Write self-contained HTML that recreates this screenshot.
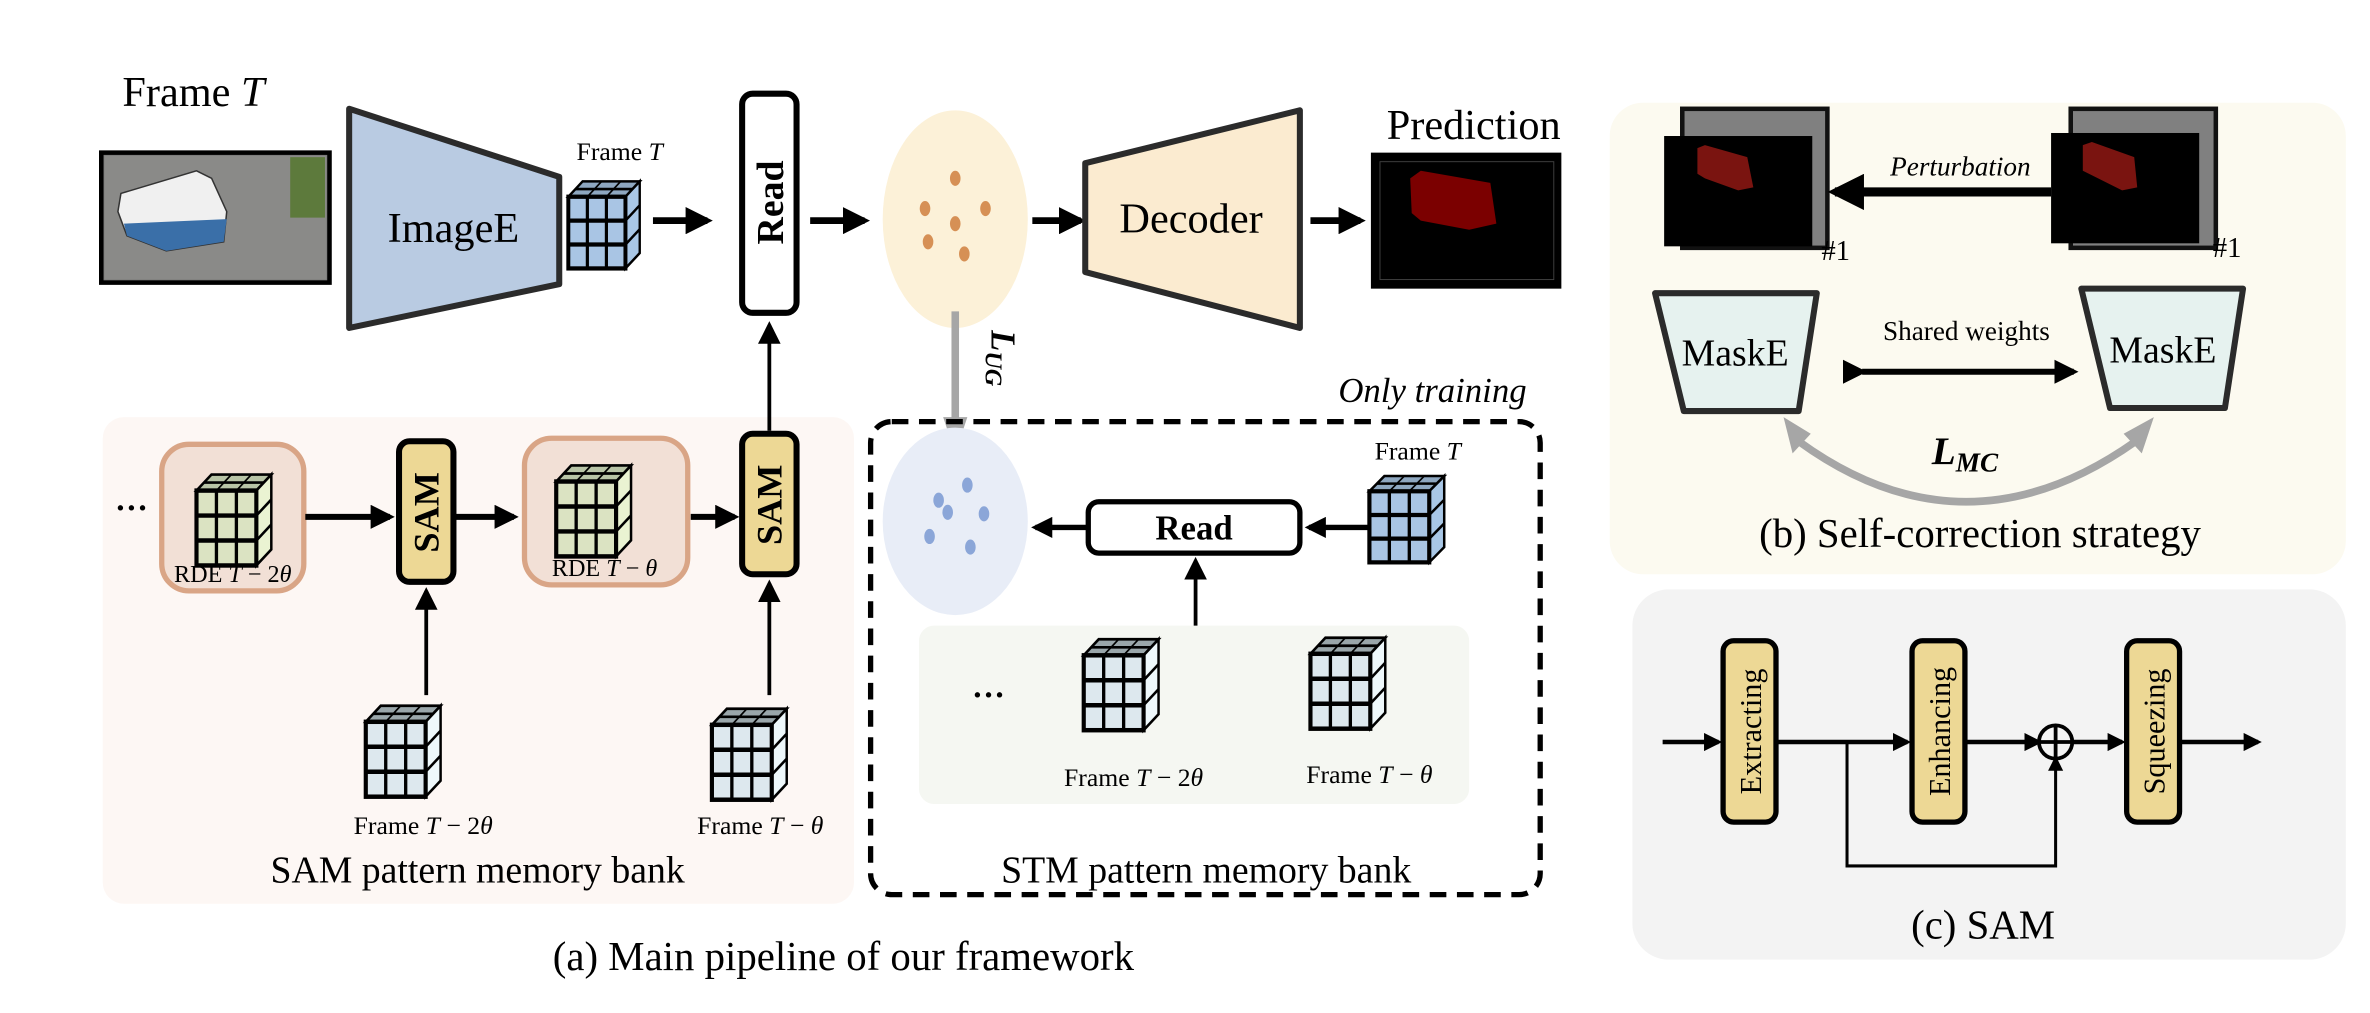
<!DOCTYPE html>
<html><head><meta charset="utf-8"><style>
html,body{margin:0;padding:0;background:#fff;font-family:"Liberation Serif","Times New Roman",Times,serif;}
svg text, svg tspan{font-family:"Liberation Serif","Times New Roman",Times,"Nimbus Roman","DejaVu Serif",serif !important;}
</style></head><body>
<svg width="2370" height="1008" viewBox="0 0 1568 667" preserveAspectRatio="none" xmlns="http://www.w3.org/2000/svg">
<defs>
<marker id="ah" markerWidth="4" markerHeight="4" refX="3.2" refY="2" orient="auto" markerUnits="strokeWidth"><path d="M0,0 L4,2 L0,4 z" fill="#000"/></marker>
<marker id="ahs" markerWidth="6" markerHeight="6" refX="5" refY="3" orient="auto" markerUnits="strokeWidth"><path d="M0,0 L6,3 L0,6 z" fill="#000"/></marker>
<g id="cube">
<polygon points="0,9 9,0 45,0 36,9" style="fill:var(--t)" stroke="#000" stroke-width="1.5"/>
<line x1="12" y1="9" x2="21" y2="0" stroke="#000" stroke-width="1"/>
<line x1="24" y1="9" x2="33" y2="0" stroke="#000" stroke-width="1"/>
<line x1="4.5" y1="4.5" x2="40.5" y2="4.5" stroke="#000" stroke-width="1.5"/>
<polygon points="36,9 45,0 45,42 36,51" style="fill:var(--s)" stroke="#000" stroke-width="1.5"/>
<line x1="36" y1="23" x2="45" y2="14" stroke="#000" stroke-width="1.5"/>
<line x1="36" y1="37" x2="45" y2="28" stroke="#000" stroke-width="1.5"/>
<rect x="0" y="9" width="36" height="42" style="fill:var(--f)" stroke="#000" stroke-width="2.5"/>
<line x1="12" y1="9" x2="12" y2="51" stroke="#000" stroke-width="2"/>
<line x1="24" y1="9" x2="24" y2="51" stroke="#000" stroke-width="2"/>
<line x1="0" y1="23" x2="36" y2="23" stroke="#000" stroke-width="2.5"/>
<line x1="0" y1="37" x2="36" y2="37" stroke="#000" stroke-width="2.5"/>
</g>
</defs>

<rect x="68" y="276" width="497" height="322" rx="14" fill="#fdf7f4"/>
<rect x="1065" y="68" width="487" height="312" rx="22" fill="#fcfaf0"/>
<rect x="1080" y="390" width="472" height="245" rx="24" fill="#f3f3f3"/>
<rect x="608" y="414" width="364" height="118" rx="10" fill="#f5f7f2"/>

<text x="128" y="70" font-size="28" text-anchor="middle">Frame <tspan font-style="italic">T</tspan></text>
<rect x="67" y="101" width="151" height="86" fill="#777" stroke="#000" stroke-width="3"/>
<rect x="69" y="103" width="147" height="82" fill="#8a8a88"/>
<polygon points="78,140 80,128 130,113 140,118 150,140 148,160 110,166 84,156" fill="#f0f0f0" stroke="#333" stroke-width="1"/>
<polygon points="82,148 150,145 148,160 110,166 84,156" fill="#3a6fa8"/>
<rect x="192" y="104" width="23" height="40" fill="#5d7a3c"/>
<polygon points="231,72 370,117 370,188 231,217" fill="#b9cbe2" stroke="#2b2b2b" stroke-width="4" stroke-linejoin="round"/>
<text x="300" y="160" font-size="28" text-anchor="middle">ImageE</text>
<text x="410" y="106" font-size="17" text-anchor="middle">Frame <tspan font-style="italic">T</tspan></text>
<use href="#cube" transform="translate(376,120) scale(1.05,1.13)" style="--t:#8ea7c0;--s:#a9c7e6;--f:#a9c5e4"/>
<line x1="432" y1="146" x2="468" y2="146" stroke="#000" stroke-width="4.5" marker-end="url(#ah)"/>
<rect x="491" y="62" width="36" height="145" rx="7" fill="#fff" stroke="#000" stroke-width="4"/>
<text transform="translate(518,134) rotate(-90)" font-size="25" font-weight="bold" text-anchor="middle">Read</text>
<line x1="536" y1="146" x2="572" y2="146" stroke="#000" stroke-width="4.5" marker-end="url(#ah)"/>
<ellipse cx="632" cy="145" rx="48" ry="72" fill="#fcf1d8"/>
<g fill="#d69055"><ellipse cx="632" cy="118" rx="3.5" ry="5"/><ellipse cx="612" cy="138" rx="3.5" ry="5"/><ellipse cx="652" cy="138" rx="3.5" ry="5"/><ellipse cx="632" cy="148" rx="3.5" ry="5"/><ellipse cx="614" cy="160" rx="3.5" ry="5"/><ellipse cx="638" cy="168" rx="3.5" ry="5"/></g>
<line x1="683" y1="146" x2="715" y2="146" stroke="#000" stroke-width="4.5" marker-end="url(#ah)"/>
<polygon points="718,108 860,73 860,217 718,180" fill="#fbebd0" stroke="#2b2b2b" stroke-width="4" stroke-linejoin="round"/>
<text x="788" y="154" font-size="28" text-anchor="middle">Decoder</text>
<line x1="867" y1="146" x2="900" y2="146" stroke="#000" stroke-width="4.5" marker-end="url(#ah)"/>
<text x="975" y="92" font-size="28" text-anchor="middle">Prediction</text>
<rect x="907" y="101" width="126" height="90" fill="#000"/>
<rect x="913" y="107" width="115" height="78" fill="none" stroke="#444" stroke-width="0.6"/>
<polygon points="933,118 940,113 986,121 990,148 972,152 940,146 934,141" fill="#7b0000"/>

<line x1="509" y1="285" x2="509" y2="215" stroke="#000" stroke-width="2.5" marker-end="url(#ahs)"/>
<line x1="632" y1="206" x2="632" y2="278" stroke="#a6a6a6" stroke-width="5"/>
<polygon points="624,276 640,276 632,300" fill="#a6a6a6"/>
<text transform="translate(656,237) rotate(90)" font-size="23" font-weight="bold" font-style="italic" text-anchor="middle">L<tspan font-size="16" dy="4">UG</tspan></text>

<text x="87" y="343" font-size="22" text-anchor="middle" font-weight="bold">···</text>
<rect x="107" y="294" width="94" height="97" rx="18" fill="#f2e0d6" stroke="#d9a586" stroke-width="3.5"/>
<use href="#cube" transform="translate(130,314) scale(1.1,1.18)" style="--t:#b8c4a6;--s:#eaf3d2;--f:#dbe3c2"/>
<text x="154" y="385" font-size="16" text-anchor="middle">RDE <tspan font-style="italic">T</tspan> − 2<tspan font-style="italic">θ</tspan></text>
<line x1="202" y1="342" x2="258" y2="342" stroke="#000" stroke-width="4" marker-end="url(#ah)"/>
<rect x="264" y="292" width="36" height="93" rx="7" fill="#edd895" stroke="#000" stroke-width="4"/>
<text transform="translate(290,339) rotate(-90)" font-size="24" font-weight="bold" text-anchor="middle">SAM</text>
<line x1="300" y1="342" x2="340" y2="342" stroke="#000" stroke-width="4" marker-end="url(#ah)"/>
<rect x="347" y="290" width="108" height="97" rx="18" fill="#f2e0d6" stroke="#d9a586" stroke-width="3.5"/>
<use href="#cube" transform="translate(368,308) scale(1.1,1.18)" style="--t:#b8c4a6;--s:#eaf3d2;--f:#dbe3c2"/>
<text x="400" y="381" font-size="16" text-anchor="middle">RDE <tspan font-style="italic">T</tspan> − <tspan font-style="italic">θ</tspan></text>
<line x1="457" y1="342" x2="486" y2="342" stroke="#000" stroke-width="4" marker-end="url(#ah)"/>
<rect x="491" y="287" width="36" height="93" rx="7" fill="#edd895" stroke="#000" stroke-width="4"/>
<text transform="translate(517,334) rotate(-90)" font-size="24" font-weight="bold" text-anchor="middle">SAM</text>
<line x1="282" y1="460" x2="282" y2="391" stroke="#000" stroke-width="2.5" marker-end="url(#ahs)"/>
<line x1="509" y1="460" x2="509" y2="386" stroke="#000" stroke-width="2.5" marker-end="url(#ahs)"/>
<use href="#cube" transform="translate(242,467) scale(1.1,1.18)" style="--t:#9aa6aa;--s:#eef8fb;--f:#dde8ee"/>
<use href="#cube" transform="translate(471,469) scale(1.1,1.18)" style="--t:#9aa6aa;--s:#eef8fb;--f:#dde8ee"/>
<text x="280" y="552" font-size="17" text-anchor="middle">Frame <tspan font-style="italic">T</tspan> − 2<tspan font-style="italic">θ</tspan></text>
<text x="503" y="552" font-size="17" text-anchor="middle">Frame <tspan font-style="italic">T</tspan> − <tspan font-style="italic">θ</tspan></text>
<text x="316" y="584" font-size="25" text-anchor="middle">SAM pattern memory bank</text>

<text x="1010" y="266" font-size="23" font-style="italic" text-anchor="end">Only training</text>
<rect x="576" y="279" width="443" height="313" rx="14" fill="none" stroke="#000" stroke-width="3.5" stroke-dasharray="11,7"/>
<ellipse cx="632" cy="345" rx="48" ry="62" fill="#e8edf7"/>
<g fill="#8ba6d8"><ellipse cx="640" cy="321" rx="3.5" ry="5"/><ellipse cx="621" cy="331" rx="3.5" ry="5"/><ellipse cx="627" cy="339" rx="3.5" ry="5"/><ellipse cx="651" cy="340" rx="3.5" ry="5"/><ellipse cx="615" cy="355" rx="3.5" ry="5"/><ellipse cx="642" cy="362" rx="3.5" ry="5"/></g>
<line x1="720" y1="349" x2="685" y2="349" stroke="#000" stroke-width="3.5" marker-end="url(#ah)"/>
<rect x="720" y="332" width="140" height="34" rx="7" fill="#fff" stroke="#000" stroke-width="3.5"/>
<text x="790" y="357" font-size="23" font-weight="bold" text-anchor="middle">Read</text>
<line x1="906" y1="349" x2="866" y2="349" stroke="#000" stroke-width="3.5" marker-end="url(#ah)"/>
<text x="938" y="304" font-size="17" text-anchor="middle">Frame <tspan font-style="italic">T</tspan></text>
<use href="#cube" transform="translate(906,315) scale(1.1,1.12)" style="--t:#8ea7c0;--s:#a9c7e6;--f:#a9c5e4"/>
<line x1="791" y1="414" x2="791" y2="371" stroke="#000" stroke-width="2.5" marker-end="url(#ahs)"/>
<text x="654" y="467" font-size="22" font-weight="bold" text-anchor="middle">···</text>
<use href="#cube" transform="translate(717,423) scale(1.1,1.18)" style="--t:#9aa6aa;--s:#eef8fb;--f:#dde8ee"/>
<use href="#cube" transform="translate(867,422) scale(1.1,1.18)" style="--t:#9aa6aa;--s:#eef8fb;--f:#dde8ee"/>
<text x="750" y="520" font-size="17" text-anchor="middle">Frame <tspan font-style="italic">T</tspan> − 2<tspan font-style="italic">θ</tspan></text>
<text x="906" y="518" font-size="17" text-anchor="middle">Frame <tspan font-style="italic">T</tspan> − <tspan font-style="italic">θ</tspan></text>
<text x="798" y="584" font-size="25" text-anchor="middle">STM pattern memory bank</text>
<text x="558" y="642" font-size="27" text-anchor="middle">(a) Main pipeline of our framework</text>

<rect x="1113" y="72" width="96" height="92" fill="#808080" stroke="#111" stroke-width="3"/>
<rect x="1101" y="90" width="98" height="73" fill="#000"/>
<polygon points="1123,98 1128,96 1156,104 1160,124 1150,126 1128,118 1123,115" fill="#7a1410"/>
<text x="1205" y="172" font-size="19">#1</text>
<rect x="1370" y="72" width="96" height="92" fill="#808080" stroke="#111" stroke-width="3"/>
<rect x="1357" y="88" width="98" height="73" fill="#000"/>
<polygon points="1378,96 1384,94 1412,104 1414,124 1404,126 1384,116 1378,113" fill="#7a1410"/>
<text x="1464" y="170" font-size="19">#1</text>
<text x="1297" y="116" font-size="18" font-style="italic" text-anchor="middle">Perturbation</text>
<line x1="1357" y1="127" x2="1214" y2="127" stroke="#000" stroke-width="6" marker-end="url(#ah)"/>
<polygon points="1095,194 1202,194 1190,272 1114,272" fill="#e6f2ef" stroke="#2b2b2b" stroke-width="4" stroke-linejoin="round"/>
<polygon points="1377,191 1484,191 1472,270 1396,270" fill="#e6f2ef" stroke="#2b2b2b" stroke-width="4" stroke-linejoin="round"/>
<text x="1148" y="242" font-size="25" text-anchor="middle">MaskE</text>
<text x="1431" y="240" font-size="25" text-anchor="middle">MaskE</text>
<text x="1301" y="225" font-size="18" text-anchor="middle">Shared weights</text>
<line x1="1232" y1="246" x2="1372" y2="246" stroke="#000" stroke-width="4" marker-start="url(#ah)" marker-end="url(#ah)"/>
<path d="M1190,292 Q1300,372 1413,292" fill="none" stroke="#a6a6a6" stroke-width="5"/>
<polygon points="1180,276 1198,287 1186,300" fill="#a6a6a6"/>
<polygon points="1425,276 1417,300 1405,287" fill="#a6a6a6"/>
<text x="1300" y="307" font-size="26" font-weight="bold" font-style="italic" text-anchor="middle">L<tspan font-size="18" dy="5">MC</tspan></text>
<text x="1310" y="362" font-size="27" text-anchor="middle">(b) Self-correction strategy</text>

<rect x="1140" y="424" width="35" height="120" rx="7" fill="#edd895" stroke="#000" stroke-width="3.5"/>
<rect x="1265" y="424" width="35" height="120" rx="7" fill="#edd895" stroke="#000" stroke-width="3.5"/>
<rect x="1407" y="424" width="35" height="120" rx="7" fill="#edd895" stroke="#000" stroke-width="3.5"/>
<text transform="translate(1165,484) rotate(-90)" font-size="20" text-anchor="middle">Extracting</text>
<text transform="translate(1290,484) rotate(-90)" font-size="20" text-anchor="middle">Enhancing</text>
<text transform="translate(1432,484) rotate(-90)" font-size="20" text-anchor="middle">Squeezing</text>
<line x1="1100" y1="491" x2="1137" y2="491" stroke="#000" stroke-width="3" marker-end="url(#ah)"/>
<line x1="1175" y1="491" x2="1262" y2="491" stroke="#000" stroke-width="3" marker-end="url(#ah)"/>
<line x1="1300" y1="491" x2="1349" y2="491" stroke="#000" stroke-width="3" marker-end="url(#ah)"/>
<circle cx="1360" cy="491" r="11" fill="none" stroke="#000" stroke-width="2.5"/>
<line x1="1349" y1="491" x2="1371" y2="491" stroke="#000" stroke-width="2.5"/>
<line x1="1360" y1="480" x2="1360" y2="502" stroke="#000" stroke-width="2.5"/>
<line x1="1371" y1="491" x2="1404" y2="491" stroke="#000" stroke-width="3" marker-end="url(#ah)"/>
<line x1="1442" y1="491" x2="1494" y2="491" stroke="#000" stroke-width="3" marker-end="url(#ah)"/>
<polyline points="1222,491 1222,573 1360,573 1360,507" fill="none" stroke="#000" stroke-width="2"/>
<polygon points="1355,510 1360,500 1365,510" fill="#000"/>
<text x="1312" y="621" font-size="27" text-anchor="middle">(c) SAM</text>
</svg>
</body></html>
